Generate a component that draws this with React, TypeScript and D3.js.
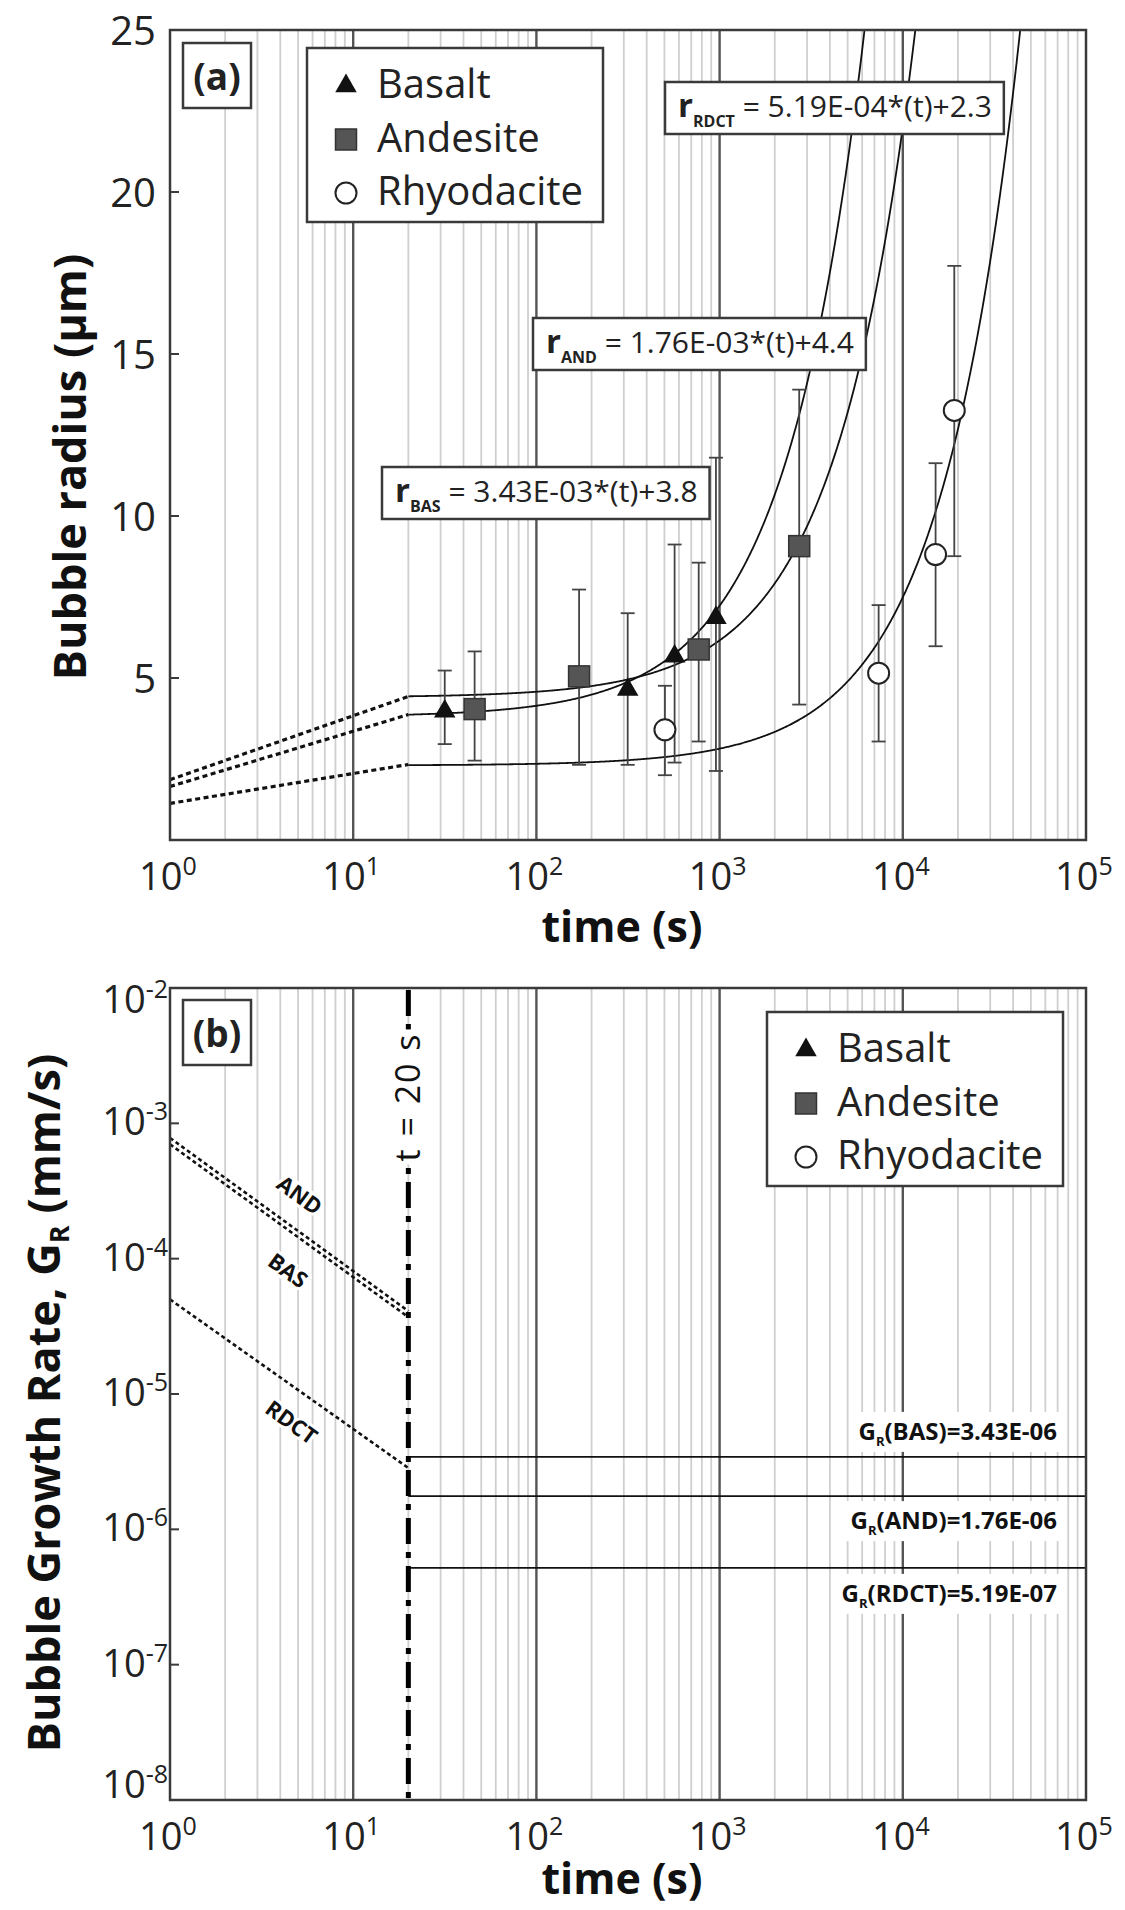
import React, { useEffect, useRef } from 'react';
import * as d3 from 'd3';

// ---- panel (a): bubble radius (um) vs time (s) ----
const basaltTime = [31.6, 315, 568, 955];
const basaltRadius = [3.97, 4.64, 5.67, 6.86];
const basaltLow = [2.96, 2.32, 2.39, 2.13];
const basaltHigh = [5.23, 7.0, 9.12, 11.8];

const andesiteTime = [46, 171, 769, 2720];
const andesiteRadius = [4.04, 5.05, 5.88, 9.07];
const andesiteLow = [2.45, 2.32, 3.04, 4.18];
const andesiteHigh = [5.82, 7.73, 8.56, 13.9];

const rhyoTime = [503, 7380, 15100, 19100];
const rhyoRadius = [3.4, 5.15, 8.81, 13.26];
const rhyoLow = [2.0, 3.04, 5.98, 8.76];
const rhyoHigh = [4.76, 7.25, 11.63, 17.72];

// linear fits printed on the chart: r = slope * t + intercept
const fitNames = ['BAS', 'AND', 'RDCT'];
const fitSlopeText = ['3.43E-03', '1.76E-03', '5.19E-04'];
const fitSlope = [3.43e-3, 1.76e-3, 5.19e-4];
const fitIntercept = [3.8, 4.4, 2.3];

// dotted early-time segments, t = 1 s .. 20 s
const earlyTime = [1, 20];
const earlyRadiusBAS = [1.65, 3.87];
const earlyRadiusAND = [1.86, 4.43];
const earlyRadiusRDCT = [1.13, 2.33];

// ---- panel (b): growth rate (mm/s) ----
const rateNames = ['BAS', 'AND', 'RDCT'];
const rateValues = [3.43e-6, 1.76e-6, 5.19e-7];
const rateText = ['3.43E-06', '1.76E-06', '5.19E-07'];
const earlyRateBAS = [7.0e-4, 3.7e-5];
const earlyRateAND = [7.8e-4, 4.1e-5];
const earlyRateRDCT = [5.0e-5, 2.84e-6];
const onsetTime = 20;

// where the BAS / AND / RDCT names sit along the dotted lines
const nameLabelTime = [4.4, 5.1, 4.6];
const nameLabelRate = [8.2e-5, 2.95e-4, 6.2e-6];

const radiusTicks = [5, 10, 15, 20, 25];
const timeTicks = [1, 10, 100, 1e3, 1e4, 1e5];
const rateTicks = [1e-8, 1e-7, 1e-6, 1e-5, 1e-4, 1e-3, 1e-2];
const legendNames = ['Basalt', 'Andesite', 'Rhyodacite'];

const W = 1125;
const H = 1910;
const FONT = "'Open Sans', 'Noto Sans', sans-serif";
const INK = '#222';
const FRAME = '#3a3a3a';

const App = () => {
  const svgRef = useRef<SVGSVGElement>(null);

  useEffect(() => {
    if (!svgRef.current) return;
    const svg = d3.select(svgRef.current);
    svg.selectAll('*').remove();
    svg.attr('font-family', FONT).style('white-space', 'pre');
    svg.append('rect').attr('width', W).attr('height', H).attr('fill', '#fff');

    const left = 170;
    const right = 1086;
    const x = d3.scaleLog().domain([1, 1e5]).range([left, right]);
    const yA = d3.scaleLinear().domain([0, 25]).range([840, 30]);
    const yB = d3.scaleLog().domain([1e-8, 1e-2]).range([1800, 988]);

    const minor = d3.range(0, 5).flatMap(d => d3.range(2, 10).map(k => k * Math.pow(10, d)));
    const major = [10, 100, 1000, 10000];

    const drawGrid = (top: number, bottom: number) => {
      const g = svg.append('g');
      g.selectAll('line.minor').data(minor).join('line').attr('class', 'minor')
        .attr('x1', d => x(d)).attr('x2', d => x(d)).attr('y1', top).attr('y2', bottom)
        .attr('stroke', '#cfcfcf').attr('stroke-width', 1.8);
      g.selectAll('line.major').data(major).join('line').attr('class', 'major')
        .attr('x1', d => x(d)).attr('x2', d => x(d)).attr('y1', top).attr('y2', bottom)
        .attr('stroke', '#555').attr('stroke-width', 2.4);
    };

    const drawFrame = (top: number, bottom: number) => {
      svg.append('rect').attr('x', left).attr('y', top)
        .attr('width', right - left).attr('height', bottom - top)
        .attr('fill', 'none').attr('stroke', FRAME).attr('stroke-width', 2.5);
    };

    const drawMarker = (g: any, kind: number, cx: number, cy: number) => {
      if (kind === 0) {
        g.append('path').attr('d', d3.symbol(d3.symbolTriangle, 200)())
          .attr('transform', `translate(${cx},${cy})`).attr('fill', '#111');
      } else if (kind === 1) {
        g.append('rect').attr('x', cx - 10.5).attr('y', cy - 10.5).attr('width', 21).attr('height', 21)
          .attr('fill', '#555').attr('stroke', '#333').attr('stroke-width', 1.5);
      } else {
        g.append('circle').attr('cx', cx).attr('cy', cy).attr('r', 10.5)
          .attr('fill', '#fff').attr('stroke', INK).attr('stroke-width', 2);
      }
    };

    const drawLegend = (x0: number, y0: number) => {
      const g = svg.append('g').attr('transform', `translate(${x0},${y0})`);
      g.append('rect').attr('width', 296).attr('height', 174)
        .attr('fill', '#fff').attr('stroke', FRAME).attr('stroke-width', 2.5);
      legendNames.forEach((name, i) => {
        const cy = 38 + i * 53.5;
        drawMarker(g, i, 39, cy);
        g.append('text').attr('x', 70).attr('y', cy + 12).attr('font-size', 40)
          .attr('fill', INK).text(name);
      });
    };

    const drawPanelTag = (tag: string, top: number) => {
      svg.append('rect').attr('x', 183).attr('y', top).attr('width', 68).attr('height', 65)
        .attr('fill', '#fff').attr('stroke', FRAME).attr('stroke-width', 2.5);
      svg.append('text').attr('x', 217).attr('y', top + 47).attr('text-anchor', 'middle')
        .attr('font-size', 37).attr('font-weight', 'bold').attr('fill', INK).text(tag);
    };

    const drawTimeAxis = (bottom: number, titleBase: number) => {
      timeTicks.forEach(v => {
        const t = svg.append('text').attr('x', x(v) - 2).attr('y', bottom + 50)
          .attr('text-anchor', 'middle').attr('font-size', 38).attr('fill', INK);
        t.append('tspan').text('10');
        t.append('tspan').attr('dy', -15).attr('font-size', 25).text(String(Math.round(Math.log10(v))));
      });
      svg.append('text').attr('x', 622).attr('y', titleBase).attr('text-anchor', 'middle')
        .attr('font-size', 43).attr('font-weight', 'bold').attr('fill', '#111').text('time (s)');
    };

    const tickLeft = (y: number) => {
      svg.append('line').attr('x1', left).attr('x2', left + 9).attr('y1', y).attr('y2', y)
        .attr('stroke', FRAME).attr('stroke-width', 2);
    };

    // ================= panel (a) =================
    const topA = 30;
    const bottomA = 840;
    drawGrid(topA, bottomA);

    const clip = svg.append('clipPath').attr('id', 'clipA');
    clip.append('rect').attr('x', left).attr('y', topA).attr('width', right - left).attr('height', bottomA - topA);
    const plotA = svg.append('g').attr('clip-path', 'url(#clipA)');

    const lineA = d3.line<[number, number]>().x(d => x(d[0])).y(d => yA(d[1]));
    [earlyRadiusBAS, earlyRadiusAND, earlyRadiusRDCT].forEach(r => {
      plotA.append('path').attr('d', lineA(earlyTime.map((t, i) => [t, r[i]] as [number, number])))
        .attr('fill', 'none').attr('stroke', '#111').attr('stroke-width', 3.2).attr('stroke-dasharray', '5,3.5');
    });

    const fitTimes = d3.range(Math.log10(onsetTime), 5.0001, 0.005).map(l => Math.pow(10, l));
    fitSlope.forEach((s, i) => {
      const pts = fitTimes.map(t => [t, s * t + fitIntercept[i]] as [number, number]).filter(p => p[1] < 27);
      plotA.append('path').attr('d', lineA(pts))
        .attr('fill', 'none').attr('stroke', '#111').attr('stroke-width', 1.8);
    });

    const series = [
      { t: basaltTime, r: basaltRadius, lo: basaltLow, hi: basaltHigh },
      { t: andesiteTime, r: andesiteRadius, lo: andesiteLow, hi: andesiteHigh },
      { t: rhyoTime, r: rhyoRadius, lo: rhyoLow, hi: rhyoHigh },
    ];
    const bars = plotA.append('g').attr('stroke', '#444').attr('stroke-width', 1.8);
    series.forEach(s => {
      s.t.forEach((t, i) => {
        const cx = x(t);
        bars.append('line').attr('x1', cx).attr('x2', cx).attr('y1', yA(s.lo[i])).attr('y2', yA(s.hi[i]));
        [s.lo[i], s.hi[i]].forEach(v => {
          bars.append('line').attr('x1', cx - 7).attr('x2', cx + 7).attr('y1', yA(v)).attr('y2', yA(v));
        });
      });
    });
    series.forEach((s, k) => {
      s.t.forEach((t, i) => drawMarker(plotA, k, x(t), yA(s.r[i])));
    });

    drawLegend(307, 48);
    drawPanelTag('(a)', 43);

    // fit equation boxes
    const eqBoxes = [
      { left: 382, base: 502 },
      { left: 533, base: 353 },
      { left: 665, base: 117 },
    ];
    eqBoxes.forEach((b, i) => {
      const g = svg.append('g');
      const rect = g.append('rect');
      const t = g.append('text').attr('x', b.left + 13).attr('y', b.base)
        .attr('font-size', 30).attr('fill', INK);
      t.append('tspan').attr('font-weight', 'bold').attr('font-size', 33).text('r');
      t.append('tspan').attr('font-weight', 'bold').attr('font-size', 16).attr('dy', 10).text(fitNames[i]);
      t.append('tspan').attr('dy', -10).text(` = ${fitSlopeText[i]}*(t)+${fitIntercept[i]}`);
      const bb = (t.node() as SVGTextElement).getBBox();
      rect.attr('x', b.left).attr('y', b.base - 35).attr('width', bb.x + bb.width + 12 - b.left).attr('height', 52)
        .attr('fill', '#fff').attr('stroke', FRAME).attr('stroke-width', 2.5);
    });

    drawFrame(topA, bottomA);
    radiusTicks.forEach(v => {
      tickLeft(yA(v));
      svg.append('text').attr('x', 156).attr('y', yA(v) + 15).attr('text-anchor', 'end')
        .attr('font-size', 40).attr('fill', INK).text(String(v));
    });
    drawTimeAxis(bottomA, 942);
    svg.append('text').attr('transform', `translate(86,467) rotate(-90)`).attr('text-anchor', 'middle')
      .attr('font-size', 45).attr('font-weight', 'bold').attr('fill', '#111').text('Bubble radius (\u00b5m)');

    // ================= panel (b) =================
    const topB = 988;
    const bottomB = 1800;
    drawGrid(topB, bottomB);

    const lineB = d3.line<[number, number]>().x(d => x(d[0])).y(d => yB(d[1]));
    [earlyRateBAS, earlyRateAND, earlyRateRDCT].forEach(r => {
      svg.append('path').attr('d', lineB(earlyTime.map((t, i) => [t, r[i]] as [number, number])))
        .attr('fill', 'none').attr('stroke', '#111').attr('stroke-width', 2.6).attr('stroke-dasharray', '4,3');
    });

    rateValues.forEach(v => {
      svg.append('line').attr('x1', x(onsetTime)).attr('x2', right).attr('y1', yB(v)).attr('y2', yB(v))
        .attr('stroke', '#111').attr('stroke-width', 1.8);
    });

    svg.append('line').attr('x1', x(onsetTime)).attr('x2', x(onsetTime)).attr('y1', topB + 2).attr('y2', bottomB)
      .attr('stroke', '#000').attr('stroke-width', 5).attr('stroke-dasharray', '26,8,6,8');

    const tg = svg.append('g').attr('transform', `translate(${x(onsetTime)},1097) rotate(-90)`);
    const tRect = tg.append('rect');
    const tText = tg.append('text').attr('x', 0).attr('y', 12).attr('text-anchor', 'middle')
      .attr('font-size', 34).attr('letter-spacing', 2).attr('fill', '#111').text('t = 20 s');
    const tbb = (tText.node() as SVGTextElement).getBBox();
    tRect.attr('x', tbb.x - 3).attr('y', tbb.y + 4).attr('width', tbb.width + 6).attr('height', tbb.height - 6).attr('fill', '#fff');

    rateNames.forEach((name, i) => {
      svg.append('text')
        .attr('transform', `translate(${x(nameLabelTime[i])},${yB(nameLabelRate[i])}) rotate(36)`)
        .attr('text-anchor', 'middle').attr('dy', 8)
        .attr('font-size', 22).attr('font-weight', 'bold').attr('fill', '#111')
        .attr('stroke', '#fff').attr('stroke-width', 6).attr('paint-order', 'stroke')
        .text(name);
    });

    const rateLabelDy = [-17, 33, 34];
    rateNames.forEach((name, i) => {
      const g = svg.append('g');
      const rect = g.append('rect');
      const t = g.append('text').attr('x', 1057).attr('y', yB(rateValues[i]) + rateLabelDy[i])
        .attr('text-anchor', 'end').attr('font-size', 24).attr('font-weight', 'bold').attr('fill', '#111');
      t.append('tspan').text('G');
      t.append('tspan').attr('font-size', 13).attr('dy', 6).text('R');
      t.append('tspan').attr('dy', -6).text(`(${name})=${rateText[i]}`);
      const bb = (t.node() as SVGTextElement).getBBox();
      rect.attr('x', bb.x - 5).attr('y', bb.y - 2).attr('width', bb.width + 10).attr('height', bb.height + 4)
        .attr('fill', '#fff');
    });

    drawLegend(767, 1012);
    drawPanelTag('(b)', 1000);

    drawFrame(topB, bottomB);
    rateTicks.forEach(v => {
      tickLeft(yB(v));
      const base = Math.max(topB + 25, Math.min(bottomB - 2, yB(v) + 12));
      const t = svg.append('text').attr('x', 168).attr('y', base).attr('text-anchor', 'end')
        .attr('font-size', 38).attr('fill', INK);
      t.append('tspan').text('10');
      t.append('tspan').attr('dy', -15).attr('font-size', 25).text(String(Math.round(Math.log10(v))));
    });
    drawTimeAxis(bottomB, 1894);

    const yl = svg.append('text').attr('transform', `translate(60,1403) rotate(-90)`).attr('text-anchor', 'middle')
      .attr('font-size', 45).attr('font-weight', 'bold').attr('fill', '#111');
    yl.append('tspan').text('Bubble Growth Rate, G');
    yl.append('tspan').attr('font-size', 27).attr('dy', 9).text('R');
    yl.append('tspan').attr('dy', -9).text(' (mm/s)');
  }, []);

  return (
    <svg
      ref={svgRef}
      width={W}
      height={H}
      style={{ position: 'absolute', left: 0, top: 0, background: '#fff' }}
    />
  );
};

export default App;
